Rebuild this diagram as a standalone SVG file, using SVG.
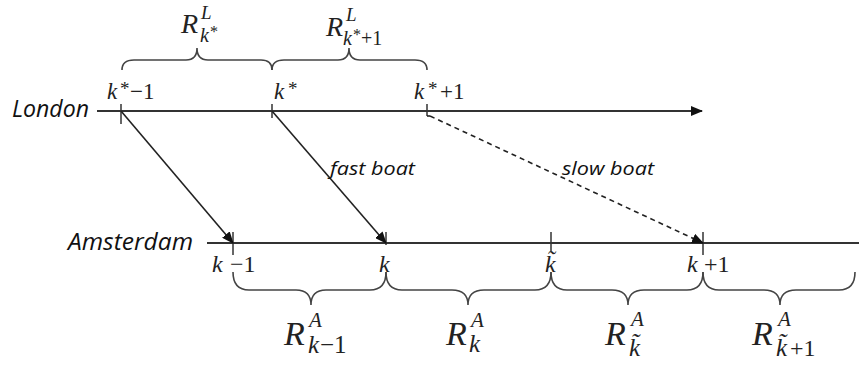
<svg xmlns="http://www.w3.org/2000/svg" width="859" height="367" viewBox="0 0 859 367">
<style>
.ax{stroke:#333;stroke-width:2;fill:none}
.tk{stroke:#333;stroke-width:1.5;fill:none}
.br{stroke:#444;stroke-width:1.6;fill:none}
.cn{stroke:#222;stroke-width:1.6;fill:none}
.city{font-family:"Open Sans","DejaVu Sans",sans-serif;font-style:italic;font-size:23px;fill:#111}
.boat{font-family:"Open Sans","DejaVu Sans",sans-serif;font-style:italic;font-size:19px;fill:#111}
.m{font-family:"Liberation Serif","DejaVu Serif","Times New Roman",serif;font-style:italic;fill:#222}
.n{font-family:"Liberation Serif","DejaVu Serif","Times New Roman",serif;font-style:normal;fill:#222}
</style>
<defs>
<marker id="ah" markerWidth="12" markerHeight="10" refX="11" refY="5" orient="auto" markerUnits="userSpaceOnUse">
<path d="M0,0 L12,5 L0,10 Z" fill="#111"/>
</marker>
</defs>
<rect width="859" height="367" fill="#fff"/>

<g id="london">
<text class="city" x="12" y="117" textLength="77" lengthAdjust="spacingAndGlyphs">London</text>
<line class="ax" x1="97" y1="111" x2="702" y2="111" marker-end="url(#ah)"/>
<line class="tk" x1="121" y1="104" x2="121" y2="124"/>
<line class="tk" x1="272" y1="104" x2="272" y2="118"/>
<line class="tk" x1="427" y1="104" x2="427" y2="116"/>
<text class="m" font-size="23" x="107" y="99">k</text>
<text class="n" font-size="19" x="120" y="95">*</text>
<text class="n" font-size="23" x="130" y="99">−1</text>
<text class="m" font-size="23" x="274" y="99">k</text>
<text class="n" font-size="19" x="288" y="95">*</text>
<text class="m" font-size="23" x="414" y="99">k</text>
<text class="n" font-size="19" x="428" y="95">*</text>
<text class="n" font-size="23" x="440" y="99">+1</text>
</g>

<g id="amsterdam">
<text class="city" x="68" y="250" textLength="125" lengthAdjust="spacingAndGlyphs">Amsterdam</text>
<line class="ax" x1="207" y1="243" x2="859" y2="243"/>
<line class="tk" x1="233" y1="232" x2="233" y2="255"/>
<line class="tk" x1="386" y1="232" x2="386" y2="245"/>
<line class="tk" x1="551" y1="232" x2="551" y2="251"/>
<line class="tk" x1="703" y1="232" x2="703" y2="255"/>
<text class="m" font-size="24" x="212" y="272">k</text>
<text class="n" font-size="24" x="230" y="272">−1</text>
<text class="m" font-size="24" x="379" y="272">k</text>
<text class="m" font-size="24" x="545" y="272">k&#x303;</text>
<text class="m" font-size="24" x="687" y="272">k</text>
<text class="n" font-size="24" x="704" y="272">+1</text>
</g>

<g id="connectors">
<path class="cn" d="M427,116 L430,116"/>
<line class="cn" x1="121" y1="111" x2="233" y2="243" marker-end="url(#ah)"/>
<line class="cn" x1="272" y1="111" x2="386" y2="243" marker-end="url(#ah)"/>
<line class="cn" x1="430" y1="116" x2="703" y2="243" stroke-dasharray="5,4" marker-end="url(#ah)"/>
<text class="boat" x="330" y="175" textLength="85" lengthAdjust="spacingAndGlyphs">fast boat</text>
<text class="boat" x="562" y="175" textLength="92" lengthAdjust="spacingAndGlyphs">slow boat</text>
</g>

<g id="brace-L-kstar">
<path class="br" d="M122,70 Q122,60 134,60 L186,60 Q197,60 197,48 Q197,60 208,60 L261,60 Q272,60 272,70"/>
<text class="m" font-size="28" x="181" y="33">R</text>
<text class="m" font-size="19" x="201" y="19">L</text>
<text class="m" font-size="20" x="200" y="42">k</text>
<text class="n" font-size="16" x="210" y="37">*</text>
</g>

<g id="brace-L-kstar1">
<path class="br" d="M272,70 Q272,60 284,60 L338,60 Q349,60 349,48 Q349,60 360,60 L415,60 Q427,60 427,70"/>
<text class="m" font-size="28" x="326" y="36">R</text>
<text class="m" font-size="19" x="346" y="21">L</text>
<text class="m" font-size="20" x="343" y="45">k</text>
<text class="n" font-size="16" x="353" y="40">*</text>
<text class="n" font-size="20" x="361" y="45">+1</text>
</g>

<g id="brace-A-km1">
<path class="br" d="M233,272 Q233,290 249,290 L296,290 Q311,290 311,305 Q311,290 326,290 L370,290 Q386,290 386,272"/>
<text class="m" font-size="34" x="284" y="345">R</text>
<text class="m" font-size="21" x="309" y="327">A</text>
<text class="m" font-size="25" x="308" y="353">k</text>
<text class="n" font-size="25" x="320" y="353">−1</text>
</g>

<g id="brace-A-k">
<path class="br" d="M386,272 Q386,290 402,290 L452,290 Q468,290 468,305 Q468,290 484,290 L535,290 Q551,290 551,272"/>
<text class="m" font-size="34" x="446" y="345">R</text>
<text class="m" font-size="21" x="471" y="327">A</text>
<text class="m" font-size="25" x="469" y="352">k</text>
</g>

<g id="brace-A-ktilde">
<path class="br" d="M551,272 Q551,290 567,290 L612,290 Q628,290 628,305 Q628,290 644,290 L687,290 Q703,290 703,272"/>
<text class="m" font-size="34" x="605" y="345">R</text>
<text class="m" font-size="21" x="631" y="326">A</text>
<text class="m" font-size="25" x="629" y="356">k&#x303;</text>
</g>

<g id="brace-A-ktilde1">
<path class="br" d="M703,272 Q703,290 719,290 L764,290 Q780,290 780,305 Q780,290 796,290 L839,290 Q855,290 855,272"/>
<text class="m" font-size="34" x="752" y="345">R</text>
<text class="m" font-size="21" x="778" y="326">A</text>
<text class="m" font-size="25" x="776" y="356">k&#x303;</text>
<text class="n" font-size="24" x="790" y="356">+1</text>
</g>
</svg>
